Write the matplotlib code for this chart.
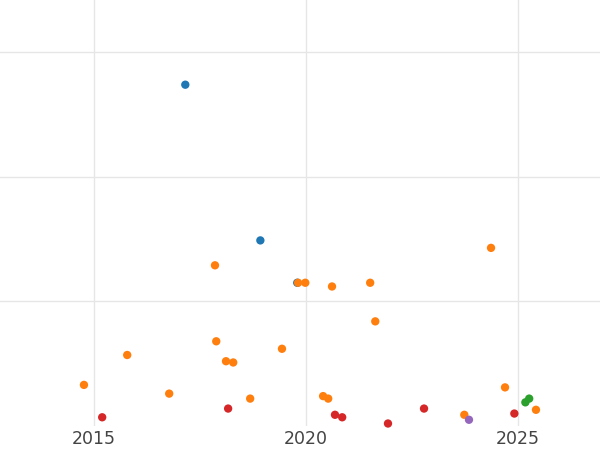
import matplotlib
matplotlib.use("Agg")
import matplotlib.pyplot as plt

blue_x = [2017.15, 2018.92, 2019.79]
blue_y = [2.74, 1.49, 1.15]
orange_x = [2014.76, 2015.78, 2016.77, 2017.85, 2017.88, 2018.11, 2018.28, 2018.68,
            2019.43, 2019.81, 2019.98, 2020.61, 2020.40, 2020.52, 2021.51, 2021.63,
            2024.36, 2023.73, 2024.69, 2025.42]
orange_y = [0.33, 0.57, 0.26, 1.29, 0.68, 0.52, 0.51, 0.22,
            0.62, 1.15, 1.15, 1.12, 0.24, 0.22, 1.15, 0.84,
            1.43, 0.09, 0.31, 0.13]
red_x = [2015.19, 2018.16, 2020.68, 2020.85, 2021.93, 2022.78, 2024.91]
red_y = [0.07, 0.14, 0.09, 0.07, 0.02, 0.14, 0.10]
green_x = [2025.17, 2025.26]
green_y = [0.19, 0.22]
purple_x = [2023.84]
purple_y = [0.05]

fig = plt.figure(figsize=(6, 4.5), dpi=100)
ax = fig.add_axes([0, 24 / 450, 1, 1 - 24 / 450])

for xs, ys, c in [(blue_x, blue_y, "#1f77b4"), (orange_x, orange_y, "#ff7f0e"),
                  (red_x, red_y, "#d62728"), (green_x, green_y, "#2ca02c"),
                  (purple_x, purple_y, "#9467bd")]:
    ax.scatter(xs, ys, s=36, color=c, edgecolors="none", zorder=3, clip_on=False)

ax.set_xlim(2012.78, 2026.93)
ax.set_ylim(0, 3.42)
ax.set_xticks([2015, 2020, 2025])
ax.set_yticks([1, 2, 3])
ax.set_yticklabels([])
ax.tick_params(length=0, labelsize=12.5, labelcolor="#444444", pad=3)
ax.grid(True, color="#e6e6e6", linewidth=1)
ax.set_axisbelow(True)
for s in ax.spines.values():
    s.set_visible(False)

fig.savefig("out.png", dpi=100)
